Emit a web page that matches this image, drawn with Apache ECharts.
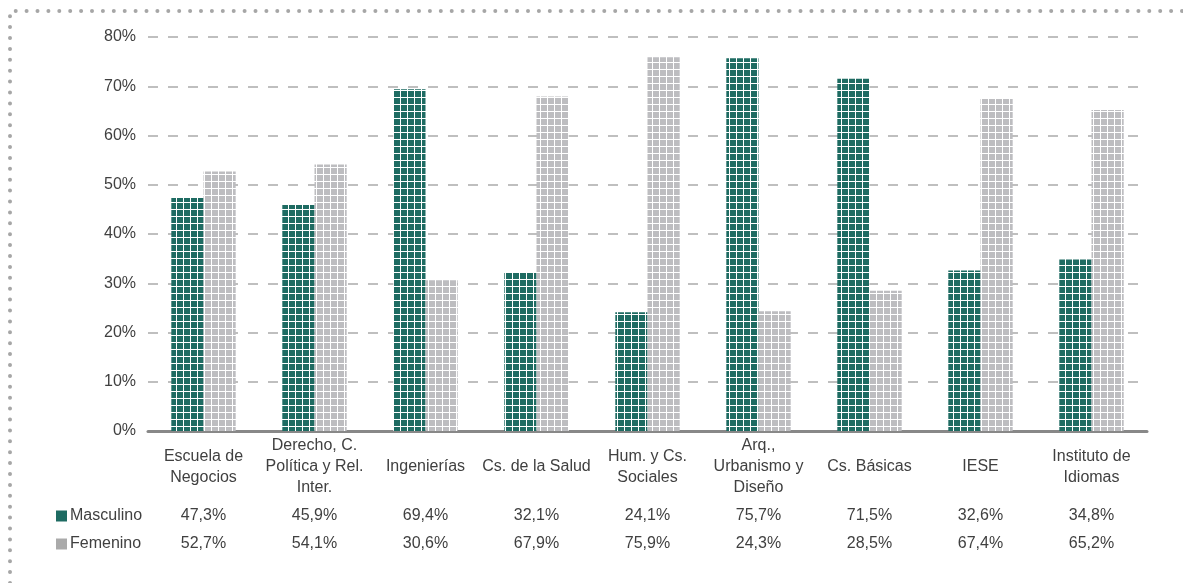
<!DOCTYPE html>
<html>
<head>
<meta charset="utf-8">
<script src="https://cdn.jsdelivr.net/npm/echarts@6/dist/echarts.min.js"></script>
<style>
html,body{margin:0;padding:0;background:#fff;}
#chart{width:1183px;height:583px;}
</style>
</head>
<body>
<div id="chart"></div>
<script>
const categories = ['Escuela de\nNegocios','Derecho, C.\nPolítica y Rel.\nInter.','Ingenierías','Cs. de la Salud','Hum. y Cs.\nSociales','Arq.,\nUrbanismo y\nDiseño','Cs. Básicas','IESE','Instituto de\nIdiomas'];
const masculino = [47.3,45.9,69.4,32.1,24.1,75.7,71.5,32.6,34.8];
const femenino = [52.7,54.1,30.6,67.9,75.9,24.3,28.5,67.4,65.2];
const yTicks = [0,10,20,30,40,50,60,70,80];

const GREEN = '#1e6b62';
const GRAY = '#bdbdc0';

function pattern(color){
  const c = document.createElement('canvas');
  c.width = 7; c.height = 7;
  const ctx = c.getContext('2d');
  ctx.fillStyle = color; ctx.fillRect(0,0,7,7);
  ctx.fillStyle = '#ffffff';
  ctx.fillRect(6,0,1,7);
  ctx.fillRect(0,6,7,1);
  return {image: c, repeat: 'repeat', x: 2, y: 0};
}
const fmt = v => v.toFixed(1).replace('.', ',') + '%';
const TXT = '#404040';
const FONT = '"Liberation Sans", Arial, sans-serif';

const chart = echarts.init(document.getElementById('chart'));
chart.setOption({
  animation: false,
  textStyle: {fontFamily: FONT},
  grid: {left: 148, right: 36, top: 37, bottom: 152},
  legend: {
    orient: 'vertical', left: 51, top: 503,
    itemWidth: 11, itemHeight: 11, itemGap: 12,
    textStyle: {fontSize: 16, color: TXT, fontFamily: FONT, padding: [0,0,0,-2]},
    data: [
      {name: 'Masculino', icon: 'rect', itemStyle: {color: GREEN}},
      {name: 'Femenino', icon: 'rect', itemStyle: {color: '#aaaaaa'}}
    ]
  },
  graphic: [{
    type: 'polyline',
    shape: {points: [[10,583],[10,11],[1190,11]]},
    style: {stroke: '#a6a6a6', lineWidth: 4, lineDash: [0,10.9], lineCap: 'round', fill: null},
    silent: true
  }],
  xAxis: [{
    type: 'category', data: categories,
    axisLine: {lineStyle: {color: '#888888', width: 3}},
    axisTick: {show: false},
    axisLabel: {interval: 0, fontSize: 16, lineHeight: 21, color: TXT, margin: 36, verticalAlign: 'middle', fontFamily: FONT}
  },{
    type: 'category', data: masculino.map(fmt), position: 'bottom',
    axisLine: {show: false}, axisTick: {show: false}, splitLine: {show: false},
    axisLabel: {interval: 0, fontSize: 16, color: TXT, margin: 85, verticalAlign: 'middle', fontFamily: FONT}
  },{
    type: 'category', data: femenino.map(fmt), position: 'bottom',
    axisLine: {show: false}, axisTick: {show: false}, splitLine: {show: false},
    axisLabel: {interval: 0, fontSize: 16, color: TXT, margin: 113, verticalAlign: 'middle', fontFamily: FONT}
  }],
  yAxis: {
    type: 'value', min: yTicks[0], max: yTicks[yTicks.length-1], interval: 10,
    axisLine: {show: false}, axisTick: {show: false},
    axisLabel: {formatter: '{value}%', fontSize: 16, color: TXT, margin: 12, fontFamily: FONT},
    splitLine: {lineStyle: {type: [10,10], color: '#bfbfbf', width: 2}}
  },
  series: [{
    name: 'Masculino', type: 'bar', data: masculino, xAxisIndex: 0,
    barGap: '0%', barCategoryGap: '42%',
    itemStyle: {color: pattern(GREEN)}
  },{
    name: 'Femenino', type: 'bar', data: femenino, xAxisIndex: 0,
    itemStyle: {color: pattern(GRAY)}
  }]
});
</script>
</body>
</html>
